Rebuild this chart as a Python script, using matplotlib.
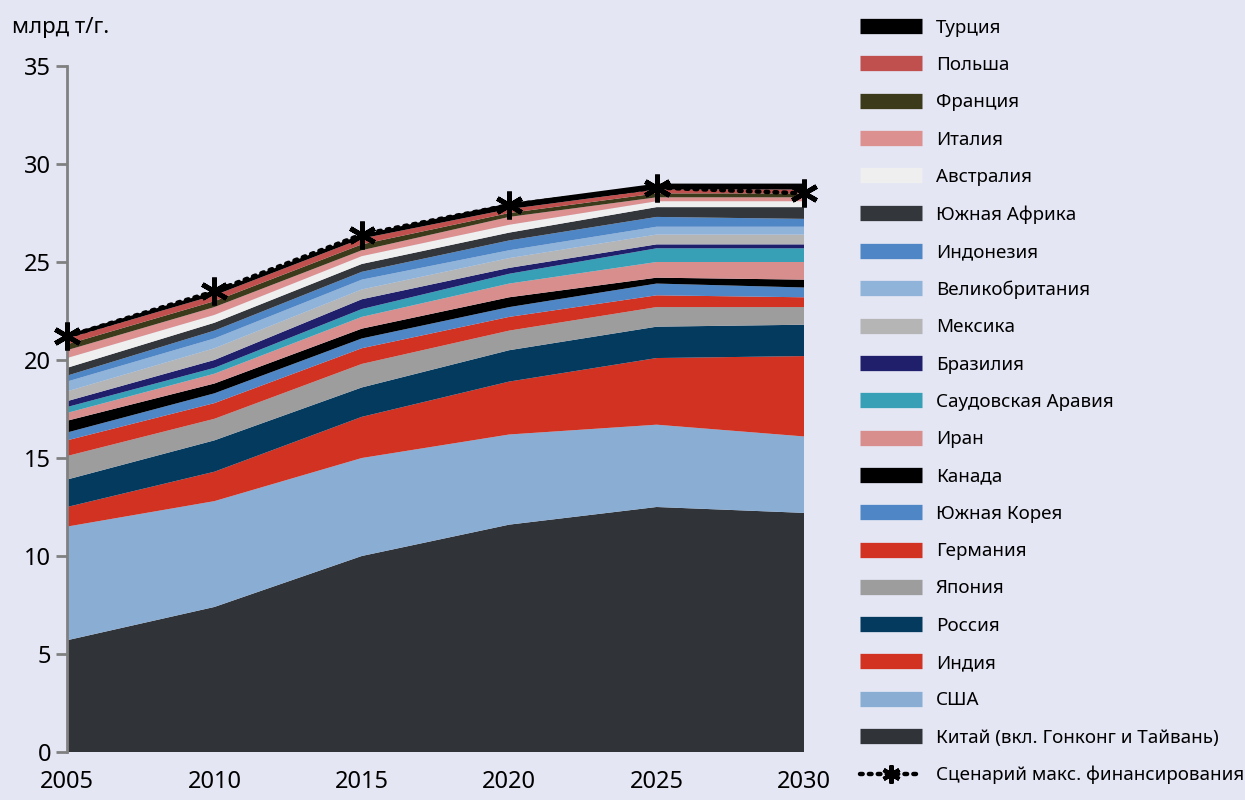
import numpy as np
import matplotlib
matplotlib.use("Agg")
from matplotlib import pyplot as plt
from matplotlib.lines import Line2D

plt.rcParams['font.family'] = ['Noto Sans', 'DejaVu Sans']

years = [2005, 2010, 2015, 2020, 2025, 2030]

# stack order: bottom to top
countries = ['Китай (вкл. Гонконг и Тайвань)', 'США', 'Индия', 'Россия', 'Япония',
             'Германия', 'Южная Корея', 'Канада', 'Иран', 'Саудовская Аравия',
             'Бразилия', 'Мексика', 'Великобритания', 'Индонезия', 'Южная Африка',
             'Австралия', 'Италия', 'Франция', 'Польша', 'Турция']

china = [5.7, 7.4, 10.0, 11.6, 12.5, 12.2]
usa = [5.8, 5.4, 5.0, 4.6, 4.2, 3.9]
india = [1.0, 1.5, 2.1, 2.7, 3.4, 4.1]
russia = [1.4, 1.6, 1.5, 1.6, 1.6, 1.6]
japan = [1.2, 1.1, 1.2, 1.0, 1.0, 0.9]
germany = [0.8, 0.8, 0.8, 0.7, 0.6, 0.5]
korea = [0.4, 0.5, 0.5, 0.5, 0.6, 0.5]
canada = [0.6, 0.5, 0.5, 0.5, 0.3, 0.4]
iran = [0.4, 0.5, 0.6, 0.7, 0.8, 0.9]
saudi = [0.3, 0.3, 0.4, 0.5, 0.7, 0.7]
brazil = [0.3, 0.4, 0.5, 0.3, 0.2, 0.2]
mexico = [0.5, 0.6, 0.5, 0.5, 0.5, 0.5]
uk = [0.5, 0.5, 0.5, 0.4, 0.4, 0.4]
indonesia = [0.3, 0.4, 0.4, 0.5, 0.5, 0.4]
safrica = [0.4, 0.4, 0.4, 0.4, 0.5, 0.6]
australia = [0.5, 0.4, 0.4, 0.4, 0.3, 0.3]
italy = [0.4, 0.4, 0.3, 0.4, 0.2, 0.2]
france = [0.3, 0.3, 0.3, 0.2, 0.2, 0.2]
poland = [0.3, 0.3, 0.3, 0.2, 0.2, 0.2]
turkey = [0.2, 0.2, 0.2, 0.3, 0.3, 0.3]

scenario = [21.2, 23.5, 26.4, 27.9, 28.8, 28.5]
scenario_label = 'Сценарий макс. финансирования'

series = [china, usa, india, russia, japan, germany, korea, canada, iran, saudi,
          brazil, mexico, uk, indonesia, safrica, australia, italy, france, poland, turkey]

colors = ['#303337', '#8aaed3', '#d13222', '#033a5e', '#9d9d9d',
          '#d13222', '#4f86c6', '#000000', '#d98e8e', '#38a0b6',
          '#1f1f6b', '#b5b5b5', '#8fb3d9', '#4f86c6', '#33373b',
          '#efefef', '#dc9090', '#3b3b1c', '#c0504d', '#000000']

bg = '#e4e6f4'
fig = plt.figure(figsize=(12.45, 8), dpi=100, facecolor=bg)
ax = fig.add_axes([0.0538, 0.06, 0.592, 0.8575])
ax.set_facecolor(bg)

ax.stackplot(years, np.array(series), colors=colors, linewidth=0)
ax.plot(years, scenario, color='black', linestyle=(0, (0.6, 1.4)), lw=3.2,
        dash_capstyle='round', clip_on=False, zorder=5,
        marker=(6, 2, 0), markersize=20, markeredgewidth=3.5, markeredgecolor='black')

ax.set_xlim(2005, 2030)
ax.set_ylim(0, 35)
ax.set_xticks(years)
ax.set_yticks(range(0, 36, 5))
ax.tick_params(axis='both', labelsize=17, color='#808080', width=2, length=8)
ax.tick_params(axis='x', length=0, pad=13)
for s in ['top', 'right', 'bottom']:
    ax.spines[s].set_visible(False)
ax.spines['left'].set_color('#808080')
ax.spines['left'].set_linewidth(2)

fig.text(0.01, 0.965, 'млрд т/г.', fontsize=16, va='center', ha='left')

handles = [Line2D([0], [0], color=c, lw=11, solid_capstyle='butt') for c in colors]
handles = handles[::-1]
labels = countries[::-1]
handles.append(Line2D([0], [0], color='black', linestyle=(0, (0.6, 1.4)), lw=3.2,
                      dash_capstyle='round',
                      marker=(6, 2, 0), markersize=13, markeredgewidth=3))
labels.append(scenario_label)
fig.legend(handles, labels, loc='upper left', bbox_to_anchor=(0.68, 0.993),
           frameon=False, fontsize=13.5, handlelength=3.3, handletextpad=0.75,
           labelspacing=1.03, borderaxespad=0.3)

fig.savefig('out.png', dpi=100, facecolor=bg)
